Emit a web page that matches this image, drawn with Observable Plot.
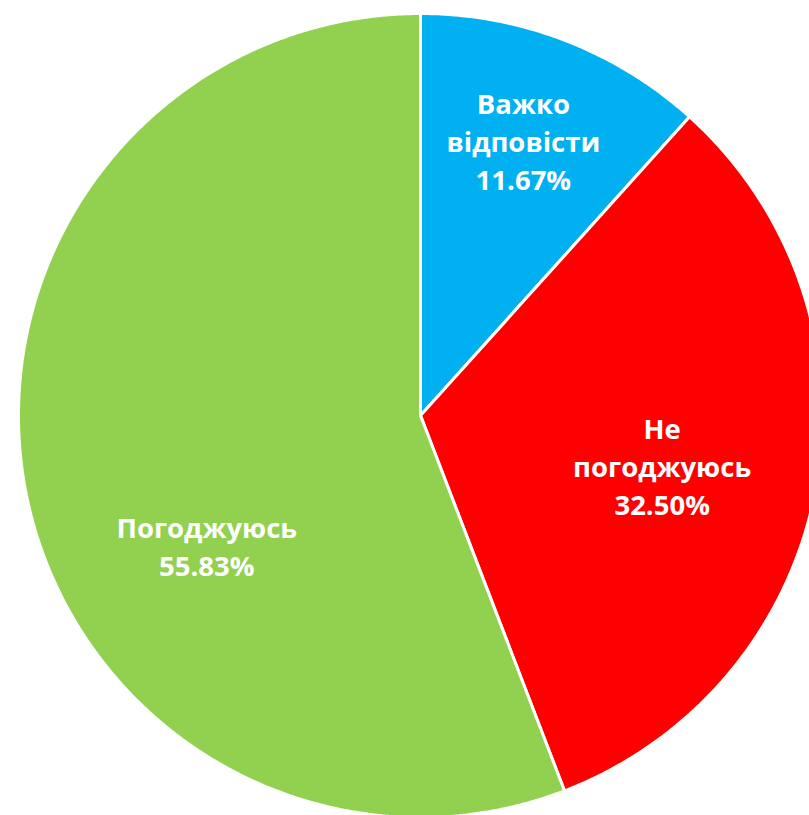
<!DOCTYPE html>
<html>
<head>
<meta charset="utf-8">
<script src="https://cdn.jsdelivr.net/npm/d3@7"></script>
<script src="https://cdn.jsdelivr.net/npm/@observablehq/plot@0.6"></script>
<style>
  html, body { margin: 0; padding: 0; background: #fff; overflow: hidden; }
  #chart svg { display: block; }
</style>
</head>
<body>
<div id="chart"></div>
<script>
const categories = ["Важко відповісти", "Не погоджуюсь", "Погоджуюсь"];
const values = [11.67, 32.50, 55.83];
const colors = ["#00B0F0", "#FF0000", "#92D050"];
const labelLines = ["Важко\nвідповісти", "Не\nпогоджуюсь", "Погоджуюсь"];
const percentLabels = ["11.67%", "32.50%", "55.83%"];

const W = 809, H = 815;
const R = 402;

const arcs = d3.pie().sort(null).value(d => d.value)(
  categories.map((c, i) => ({category: c, value: values[i], i}))
);

// polygon points for each slice
const slicePts = [];
for (const a of arcs) {
  const cat = a.data.category;
  slicePts.push({category: cat, x: 0, y: 0});
  const n = Math.max(2, Math.ceil((a.endAngle - a.startAngle) / (Math.PI / 360)));
  for (let k = 0; k <= n; k++) {
    const t = a.startAngle + (a.endAngle - a.startAngle) * k / n;
    slicePts.push({category: cat, x: R * Math.sin(t), y: R * Math.cos(t)});
  }
}

// label anchor at mid-angle
const labelR = 0.7 * R;
const labels = arcs.map(a => {
  const m = (a.startAngle + a.endAngle) / 2;
  return {
    category: a.data.category,
    text: labelLines[a.data.i] + "\n" + percentLabels[a.data.i],
    x: labelR * Math.sin(m),
    y: labelR * Math.cos(m)
  };
});

const offsets = [[2, -13], [-35, -2], [63, 78]];
const textMarks = labels.map((l, i) => Plot.text([l], {
  x: "x", y: "y", text: "text",
  dx: offsets[i][0], dy: offsets[i][1],
  fill: "white", fontWeight: "bold", fontSize: 27.5,
  lineHeight: 1.39, textAnchor: "middle", lineAnchor: "middle"
}));

const chart = Plot.plot({
  width: W, height: H,
  margin: 0,
  style: {fontFamily: "'Open Sans', 'Noto Sans', sans-serif", background: "white"},
  x: {axis: null, domain: [-420, W - 420]},
  y: {axis: null, domain: [-(H - 415), 415]},
  color: {domain: categories, range: colors},
  marks: [
    Plot.line(slicePts, {
      x: "x", y: "y", z: "category", fill: "category",
      stroke: "white", strokeWidth: 3, strokeLinejoin: "miter",
      curve: "linear-closed"
    }),
    ...textMarks
  ]
});
document.getElementById("chart").appendChild(chart);
</script>
</body>
</html>
